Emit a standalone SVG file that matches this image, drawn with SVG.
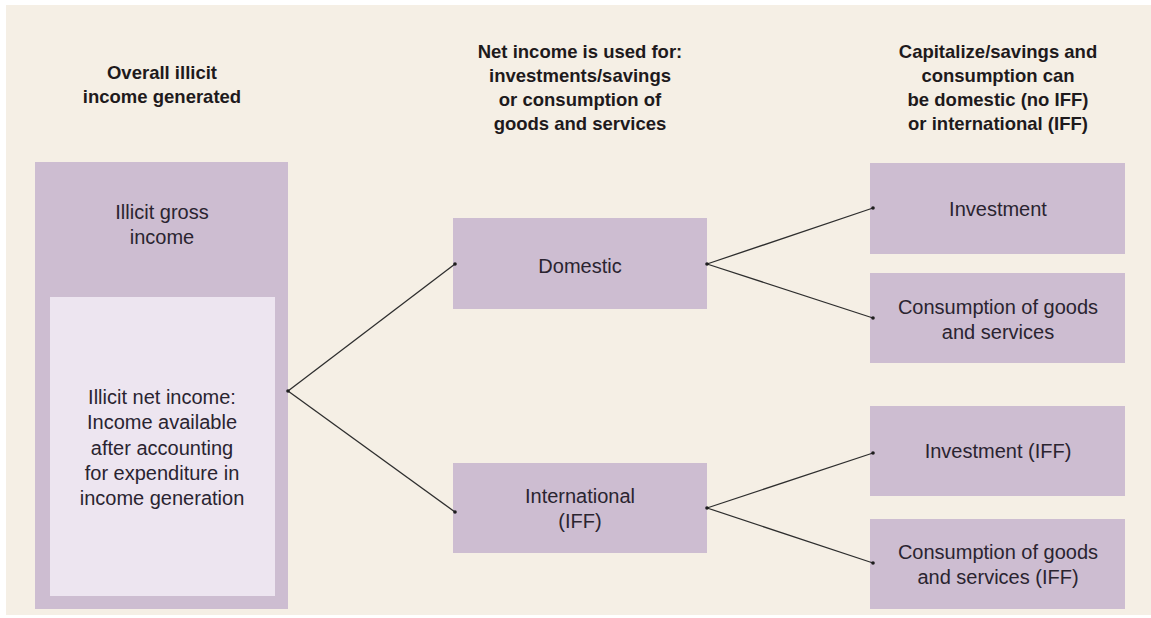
<svg xmlns="http://www.w3.org/2000/svg" width="1151" height="618" viewBox="0 0 1151 618">
  <style>
    .bg { fill: #F5EFE5; }
    .box { fill: #CDBDD1; }
    .inner { fill: #EDE5F0; }
    .hd { font-family: "Liberation Sans", Arial, sans-serif; font-weight: bold; font-size: 18.5px; fill: #1E1A1C; text-anchor: middle; }
    .tx { font-family: "Liberation Sans", Arial, sans-serif; font-size: 20px; fill: #2A2430; text-anchor: middle; }
    .ln { stroke: #2E2E2E; stroke-width: 1.3; fill: none; }
    .dot { fill: #1E1E1E; }
  </style>
  <rect x="0" y="0" width="1151" height="618" fill="#FFFFFF"/>
  <rect class="bg" x="6" y="5" width="1145" height="610"/>

  <g id="headings">
    <text class="hd" x="162" y="79">Overall illicit</text>
    <text class="hd" x="162" y="103">income generated</text>
    <text class="hd" x="580" y="58">Net income is used for:</text>
    <text class="hd" x="580" y="82">investments/savings</text>
    <text class="hd" x="580" y="106">or consumption of</text>
    <text class="hd" x="580" y="130">goods and services</text>
    <text class="hd" x="998" y="58">Capitalize/savings and</text>
    <text class="hd" x="998" y="82">consumption can</text>
    <text class="hd" x="998" y="106">be domestic (no IFF)</text>
    <text class="hd" x="998" y="130">or international (IFF)</text>
  </g>

  <g id="gross">
    <rect class="box" x="35" y="162" width="253" height="447"/>
    <text class="tx" x="162" y="219">Illicit gross</text>
    <text class="tx" x="162" y="244">income</text>
  </g>
  <g id="net">
    <rect class="inner" x="50" y="297" width="225" height="299"/>
    <text class="tx" x="162" y="404">Illicit net income:</text>
    <text class="tx" x="162" y="429">Income available</text>
    <text class="tx" x="162" y="455">after accounting</text>
    <text class="tx" x="162" y="480">for expenditure in</text>
    <text class="tx" x="162" y="505">income generation</text>
  </g>

  <g id="domestic">
    <rect class="box" x="453" y="218" width="254" height="91"/>
    <text class="tx" x="580" y="273">Domestic</text>
  </g>
  <g id="international">
    <rect class="box" x="453" y="463" width="254" height="90"/>
    <text class="tx" x="580" y="503">International</text>
    <text class="tx" x="580" y="528">(IFF)</text>
  </g>

  <g id="investment">
    <rect class="box" x="870" y="163" width="255" height="91"/>
    <text class="tx" x="998" y="216">Investment</text>
  </g>
  <g id="consumption">
    <rect class="box" x="870" y="273" width="255" height="90"/>
    <text class="tx" x="998" y="314">Consumption of goods</text>
    <text class="tx" x="998" y="339">and services</text>
  </g>
  <g id="investment-iff">
    <rect class="box" x="870" y="406" width="255" height="90"/>
    <text class="tx" x="998" y="458">Investment (IFF)</text>
  </g>
  <g id="consumption-iff">
    <rect class="box" x="870" y="519" width="255" height="90"/>
    <text class="tx" x="998" y="559">Consumption of goods</text>
    <text class="tx" x="998" y="584">and services (IFF)</text>
  </g>

  <g id="connectors">
    <line class="ln" x1="288" y1="391" x2="455" y2="264"/>
    <line class="ln" x1="288" y1="391" x2="455" y2="512"/>
    <line class="ln" x1="707" y1="264" x2="873" y2="208"/>
    <line class="ln" x1="707" y1="264" x2="873" y2="318"/>
    <line class="ln" x1="707" y1="508" x2="873" y2="453"/>
    <line class="ln" x1="707" y1="508" x2="873" y2="563"/>
    <circle class="dot" cx="288" cy="391" r="1.8"/>
    <circle class="dot" cx="455" cy="264" r="1.8"/>
    <circle class="dot" cx="455" cy="512" r="1.8"/>
    <circle class="dot" cx="707" cy="264" r="1.8"/>
    <circle class="dot" cx="707" cy="508" r="1.8"/>
    <circle class="dot" cx="873" cy="208" r="1.8"/>
    <circle class="dot" cx="873" cy="318" r="1.8"/>
    <circle class="dot" cx="873" cy="453" r="1.8"/>
    <circle class="dot" cx="873" cy="563" r="1.8"/>
  </g>
</svg>
